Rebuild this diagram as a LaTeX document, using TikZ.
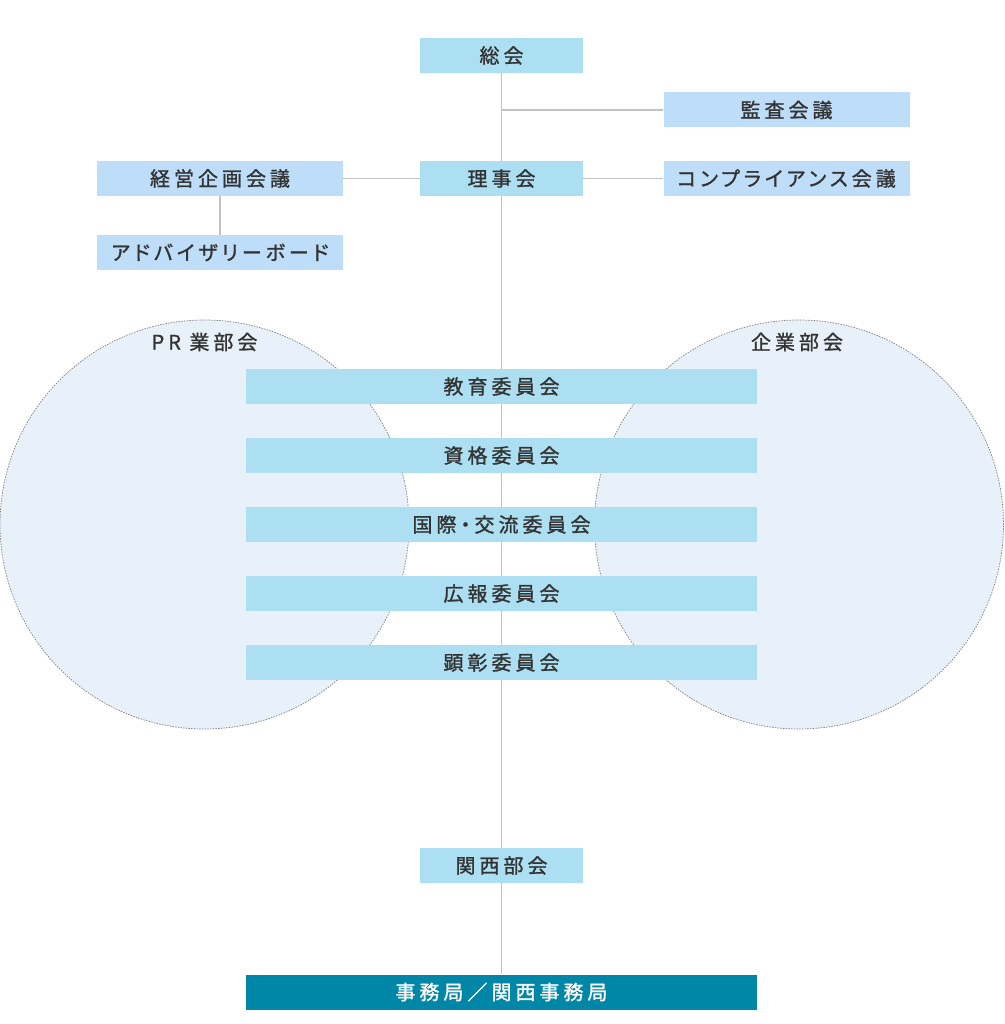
\documentclass[tikz,border=0pt]{standalone}
\usepackage{fontspec}
\usetikzlibrary{backgrounds}
\newfontfamily\jpfont[LetterSpace=20,RawFeature=+palt,FakeBold=1.2]{Noto Sans CJK JP}
\definecolor{boxblue}{HTML}{ADDFF3}
\definecolor{sideblue}{HTML}{BEDDF8}
\definecolor{circlefill}{HTML}{E8F1F9}
\definecolor{linegray}{HTML}{C2C2C2}
\definecolor{textgray}{HTML}{333333}
\definecolor{officeteal}{HTML}{0087A8}
\begin{document}
\begin{tikzpicture}[x=1pt,y=-1pt,font=\jpfont\fontsize{20}{24}\selectfont,
    box/.style={fill=boxblue,text=textgray,minimum height=35pt,inner sep=0pt},
    sidebox/.style={box,fill=sideblue,minimum width=246pt},
    small/.style={box,minimum width=163pt},
    wide/.style={box,minimum width=511pt},
    conn/.style={draw=linegray,line width=1.5pt}]
    \useasboundingbox (0,0) rectangle (1004,1024);
    % top of the chart
    \node[small] (sokai) at (501.5,55.5) {総会};
    \node[sidebox] (kansa) at (786.5,110) {監査会議};
    \node[small] (rijikai) at (501.5,178.5) {理事会};
    \node[sidebox] (compl) at (786.5,178.5) {コンプライアンス会議};
    \node[sidebox] (keiei) at (220,178.5) {経営企画会議};
    \node[sidebox] (advisory) at (220,252.5) {アドバイザリーボード};
    % committees
    \node[wide] (kyoiku) at (501.5,386.5) {教育委員会};
    \node[wide] (shikaku) at (501.5,455.5) {資格委員会};
    \node[wide] (kokusai) at (501.5,524.5) {国際・交流委員会};
    \node[wide] (koho) at (501.5,593.5) {広報委員会};
    \node[wide] (kensho) at (501.5,662.5) {顕彰委員会};
    \node[small] (kansai) at (501.5,865.5) {関西部会};
    \node[wide,fill=officeteal,text=white] (jimu) at (501.5,992) {事務局／関西事務局};
    \begin{scope}[on background layer]
        \draw[fill=circlefill,draw=gray,dash pattern=on 1.5pt off 1.2pt,line width=.7pt] (204.5,524.5) circle[radius=204.5pt];
        \draw[fill=circlefill,draw=gray,dash pattern=on 1.5pt off 1.2pt,line width=.7pt] (799,524.5) circle[radius=204.5pt];
        \node[text=textgray] (pr) at (204.5,342) {PR 業部会};
        \node[text=textgray] (kigyo) at (797,342) {企業部会};
        \draw[conn] (sokai) -- (jimu);
        \draw[conn] (sokai |- kansa) -- (kansa);
        \draw[conn] (rijikai) -- (compl);
        \draw[conn] (keiei) -- (rijikai);
        \draw[conn] (keiei) -- (advisory);
    \end{scope}
\end{tikzpicture}
\end{document}
